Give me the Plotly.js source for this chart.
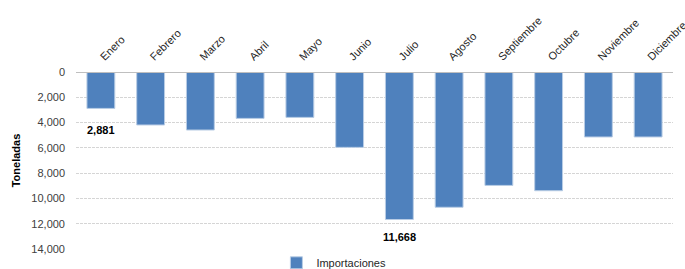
<!DOCTYPE html>
<html>
<head>
<meta charset="utf-8">
<script src="https://cdn.plot.ly/plotly-3.0.1.min.js"></script>
<style>html,body{margin:0;padding:0;background:#fff;}#chart{width:685px;height:269px;}</style>
</head>
<body>
<div id="chart"></div>
<script>
const months = ["Enero","Febrero","Marzo","Abril","Mayo","Junio","Julio","Agosto","Septiembre","Octubre","Noviembre","Diciembre"];
const importaciones = [2881, 4190, 4590, 3670, 3590, 5960, 11668, 10700, 8970, 9390, 5140, 5140];
const labelIndex = [0, 6];
const labelText = ["2,881", "11,668"];
const yTicks = [0, 2000, 4000, 6000, 8000, 10000, 12000, 14000];

const labelShift = [-22, -17];

const trace = {
  type: "bar",
  x: months,
  y: importaciones,
  name: "Importaciones",
  marker: {color: "#4f81bd", line: {color: "#b9cde5", width: 1}},
  hoverinfo: "skip",
  showlegend: true
};

const annotations = labelIndex.map((idx, k) => ({
  x: months[idx], y: importaciones[idx], xref: "x", yref: "y",
  text: labelText[k], showarrow: false, yanchor: "middle", xanchor: "center",
  yshift: labelShift[k],
  font: {family: "Liberation Sans, Arial, sans-serif", size: 11, color: "#000", weight: "bold"}
}));

const layout = {
  width: 685, height: 269,
  margin: {l: 76, r: 12, t: 72, b: 20, autoexpand: false},
  paper_bgcolor: "#fff", plot_bgcolor: "#fff",
  font: {family: "Liberation Sans, Arial, sans-serif", size: 11, color: "#404040"},
  bargap: 0.44,
  xaxis: {
    side: "top", tickangle: -45, showgrid: false, zeroline: false,
    showline: false, ticks: "", automargin: false, ticklabelstandoff: 6,
    tickfont: {size: 11, color: "#262626"}
  },
  yaxis: {
    range: [14000, 0], autorange: false, tickvals: yTicks,
    tickformat: ",d", showgrid: true, gridcolor: "#d5d5d5", griddash: "3px,1px", gridwidth: 1,
    zeroline: false, showline: false, ticks: "", automargin: false,
    ticklabelstandoff: 10,
    title: {text: "Toneladas", font: {size: 11, color: "#000", weight: "bold"}, standoff: 8}
  },
  annotations: annotations,
  shapes: [{type: "line", xref: "paper", yref: "y", x0: 0, x1: 1, y0: 0, y1: 0, line: {color: "#bfbfbf", width: 2}}],
  showlegend: true,
  legend: {orientation: "h", xref: "paper", x: 0.432, xanchor: "center",
           yref: "paper", y: -0.078, yanchor: "middle",
           font: {size: 11, color: "#262626"}, itemwidth: 30, bgcolor: "rgba(0,0,0,0)"}
};

Plotly.newPlot("chart", [trace], layout, {displayModeBar: false, staticPlot: true});
</script>
</body>
</html>
